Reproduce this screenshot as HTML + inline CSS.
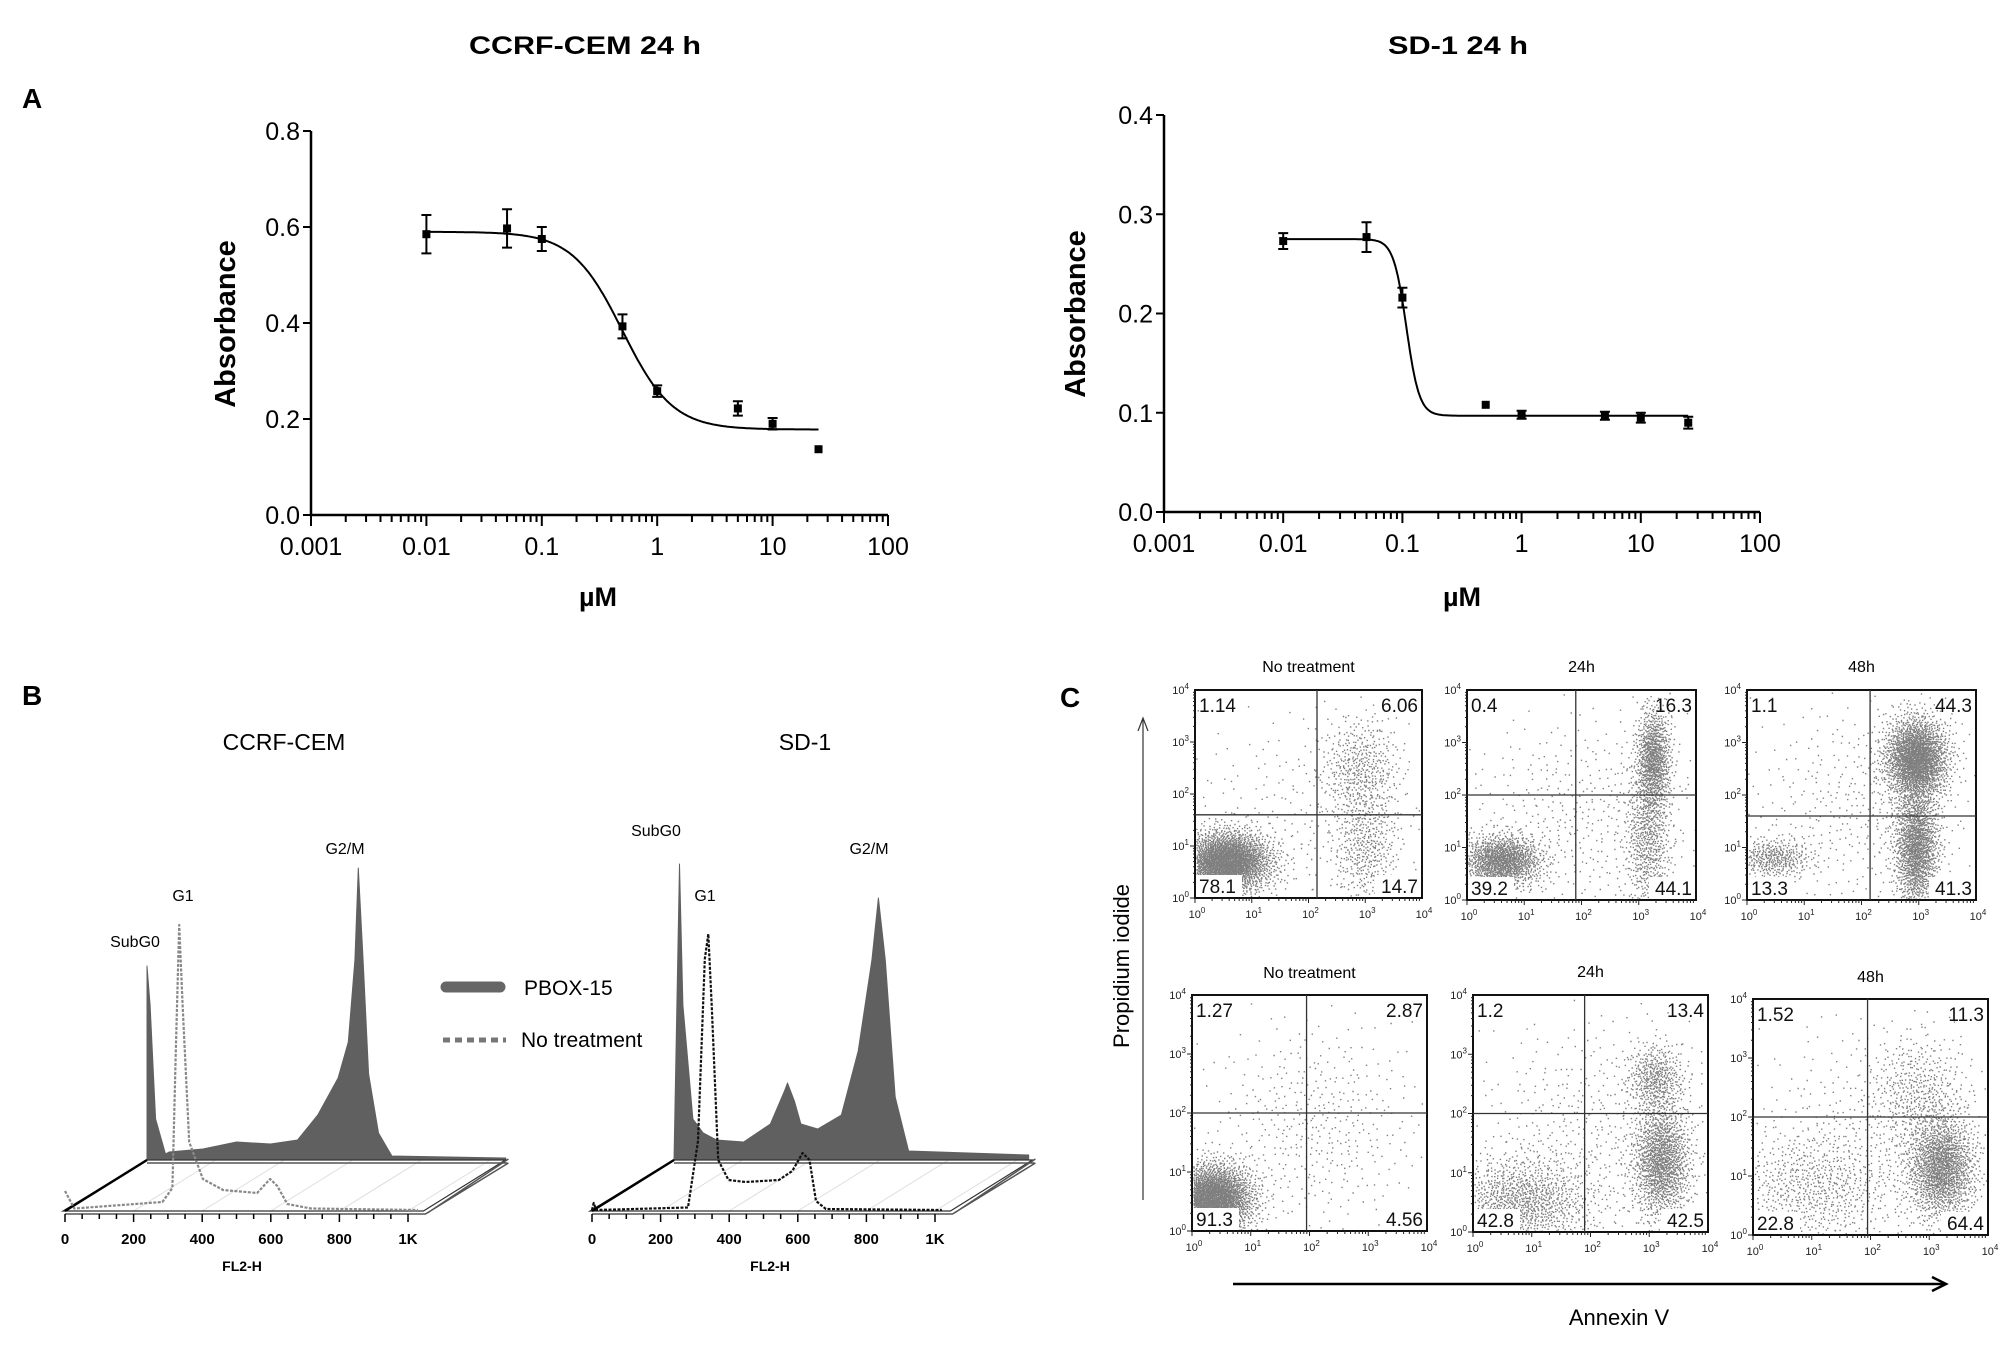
<!DOCTYPE html>
<html><head><meta charset="utf-8">
<style>
html,body{margin:0;padding:0;background:#fff;}
svg{display:block;}
text{font-family:"Liberation Sans",sans-serif;}
.nar{font-family:"Liberation Sans Narrow","Liberation Sans",sans-serif;}
</style></head>
<body>
<svg id="fig" width="2008" height="1356" viewBox="0 0 2008 1356" xmlns="http://www.w3.org/2000/svg">
<rect width="2008" height="1356" fill="#fff"/>
<text x="22" y="108" font-size="28" font-weight="bold" class="nar">A</text>
<text x="585" y="54" font-size="25" font-weight="bold" text-anchor="middle" textLength="232" lengthAdjust="spacingAndGlyphs" class="nar">CCRF-CEM 24 h</text>
<text x="1458" y="54" font-size="25" font-weight="bold" text-anchor="middle" textLength="140" lengthAdjust="spacingAndGlyphs" class="nar">SD-1 24 h</text>
<text x="0" y="0" font-size="29" font-weight="bold" text-anchor="middle" transform="translate(235,324) rotate(-90)">Absorbance</text>
<text x="0" y="0" font-size="29" font-weight="bold" text-anchor="middle" transform="translate(1085,314) rotate(-90)">Absorbance</text>
<text x="598" y="606" font-size="27" font-weight="bold" text-anchor="middle" class="nar">µM</text>
<text x="1462" y="606" font-size="27" font-weight="bold" text-anchor="middle" class="nar">µM</text>
<text x="22" y="705" font-size="28" font-weight="bold" class="nar">B</text>
<text x="284" y="750" font-size="23" text-anchor="middle" class="nar">CCRF-CEM</text>
<text x="805" y="750" font-size="23" text-anchor="middle" class="nar">SD-1</text>
<text x="135" y="947" font-size="16" text-anchor="middle" class="nar">SubG0</text>
<text x="183" y="901" font-size="16" text-anchor="middle" class="nar">G1</text>
<text x="345" y="854" font-size="16" text-anchor="middle" class="nar">G2/M</text>
<text x="656" y="836" font-size="16" text-anchor="middle" class="nar">SubG0</text>
<text x="705" y="901" font-size="16" text-anchor="middle" class="nar">G1</text>
<text x="869" y="854" font-size="16" text-anchor="middle" class="nar">G2/M</text>
<g>
<line x1="446" y1="987" x2="500" y2="987" stroke="#666" stroke-width="11" stroke-linecap="round"/>
<text x="524" y="995" font-size="21" class="nar">PBOX-15</text>
<line x1="443" y1="1040" x2="506" y2="1040" stroke="#777" stroke-width="5" stroke-dasharray="7,5"/>
<text x="521" y="1047" font-size="21" class="nar">No treatment</text>
</g>
<text x="242" y="1271" font-size="14" font-weight="bold" text-anchor="middle" class="nar">FL2-H</text>
<text x="770" y="1271" font-size="14" font-weight="bold" text-anchor="middle" class="nar">FL2-H</text>
<text x="1060" y="707" font-size="28" font-weight="bold" class="nar">C</text>
<text x="0" y="0" font-size="22" text-anchor="middle" transform="translate(1129,966) rotate(-90)">Propidium iodide</text>
<line x1="1143" y1="1200" x2="1143" y2="720" stroke="#333" stroke-width="1.2"/>
<polyline points="1138,731 1143,718 1148,731" fill="none" stroke="#333" stroke-width="1.2"/>
<line x1="1233" y1="1284" x2="1944" y2="1284" stroke="#000" stroke-width="2.5"/>
<polyline points="1932,1277 1946,1284 1932,1291" fill="none" stroke="#000" stroke-width="2.5"/>
<text x="1619" y="1325" font-size="22" text-anchor="middle">Annexin V</text>
<g id="layer"></g>
</svg>
<script>
// ===== Panel A data =====
const concA = [0.01, 0.05, 0.1, 0.5, 1, 5, 10, 25];
const absA1 = [0.585, 0.597, 0.575, 0.393, 0.258, 0.222, 0.190, 0.137];
const errA1 = [0.040, 0.040, 0.025, 0.025, 0.012, 0.015, 0.012, 0.0];
const fitA1 = [0.59, 0.178, 0.5, 2.0];
const absA2 = [0.273, 0.277, 0.216, 0.108, 0.098, 0.097, 0.095, 0.090];
const errA2 = [0.008, 0.015, 0.010, 0.0, 0.004, 0.004, 0.005, 0.006];
const fitA2 = [0.275, 0.097, 0.108, 8.0];
const xTickLabelsA = ['0.001', '0.01', '0.1', '1', '10', '100'];
const yTicksA1 = [0, 0.2, 0.4, 0.6, 0.8];
const yTicksA2 = [0, 0.1, 0.2, 0.3, 0.4];

// ===== Panel B data (channel, count) =====
const ccrfTreatCh = [0,0,9,25,54,64,163,261,360,439,498,557,587,606,616,630,646,675,714,1046];
const ccrfTreatCt = [0,194,155,41,6,8,11,18,16,20,45,82,118,200,292,200,86,27,4,2];
const ccrfCtrlCh = [0,27,284,313,323,333,343,362,402,461,560,598,619,648,717,1029];
const ccrfCtrlCt = [20,2.5,9,23,160,286,206,69,32,21,18,32,25,7,2.5,1];
const sd1TreatCh = [0,16,26,55,85,124,203,281,321,331,351,370,419,488,537,577,596,616,645,684,1034];
const sd1TreatCt = [0,296,155,41,27,20,18,36,68,77,59,36,31,45,109,200,262,200,63,9,5];
const sd1CtrlCh = [0,5,12,280,309,329,339,349,368,398,447,545,584,614,634,653,682,1020];
const sd1CtrlCt = [1,8,1,3.5,70,252,277,206,51,31,29,31,40,58,51,10,2,1];
const histTickLabels = ['0','200','400','600','800','1K'];

// ===== Panel C data =====
const flowTitles = ['No treatment','24h','48h','No treatment','24h','48h'];
const quadUL = ['1.14','0.4','1.1','1.27','1.2','1.52'];
const quadUR = ['6.06','16.3','44.3','2.87','13.4','11.3'];
const quadLL = ['78.1','39.2','13.3','91.3','42.8','22.8'];
const quadLR = ['14.7','44.1','41.3','4.56','42.5','64.4'];
const gateX = [2.15, 1.9, 2.15, 1.95, 1.9, 1.95];
const gateY = [1.6, 2.0, 1.6, 2.0, 2.0, 2.0];
const clusters0 = [[0.55,0.7,0.4,0.3,2600],[2.9,2.5,0.35,0.5,450],[3.0,1.0,0.3,0.6,450],[1.8,1.6,1.2,1.1,250]];
const clusters1 = [[0.6,0.75,0.35,0.25,1300],[3.25,2.7,0.15,0.5,900],[3.15,1.2,0.2,0.8,700],[2.0,1.6,1.1,1.0,450]];
const clusters2 = [[0.45,0.8,0.35,0.2,400],[2.95,2.7,0.28,0.4,2100],[2.95,1.0,0.2,0.6,1500],[2.0,1.8,1.0,1.0,400]];
const clusters3 = [[0.35,0.55,0.35,0.3,2600],[2.1,1.8,0.9,0.9,450]];
const clusters4 = [[0.8,0.5,0.6,0.4,1200],[3.2,1.2,0.25,0.5,1400],[3.1,2.6,0.25,0.3,450],[2.0,1.6,1.0,1.0,500]];
const clusters5 = [[1.0,0.8,0.7,0.5,700],[3.2,1.15,0.3,0.45,1600],[2.8,2.4,0.4,0.5,450],[2.0,1.7,1.0,1.0,400]];
const allClusters = [clusters0, clusters1, clusters2, clusters3, clusters4, clusters5];

const NS = 'http://www.w3.org/2000/svg';
const layer = document.getElementById('layer');
function mk(tag, attrs, parent) {
  const e = document.createElementNS(NS, tag);
  for (const k in attrs) e.setAttribute(k, attrs[k]);
  (parent || layer).appendChild(e);
  return e;
}

function drawDose(o) {
  const g = mk('g', {});
  
  
  const X = v => o.x0 + (Math.log10(v) + 3) * o.dec;
  const Y = v => o.y0 - v / o.ymax * o.h;
  const xEnd = o.x0 + 5 * o.dec;
  const ax = mk('path', {d: `M${o.x0} ${o.y0 - o.h} V${o.y0} H${xEnd}`, fill: 'none', stroke: '#000', 'stroke-width': 2.5}, g);
  
  
  let td = '';
  for (let d = 0; d < 5; d++) {
    for (let m = 1; m < 10; m++) {
      const xx = o.x0 + (d + Math.log10(m)) * o.dec;
      td += `M${xx} ${o.y0} v${m === 1 ? 11 : 7}`;
    }
  }
  td += `M${xEnd} ${o.y0} v11`;
  o.yt.forEach(v => { td += `M${o.x0} ${Y(v)} h-8`; });
  const tk = mk('path', {d: td, stroke: '#000', 'stroke-width': 2, fill: 'none'}, g);
  
  
  xTickLabelsA.forEach((s, i) => {
    const t = mk('text', {x: o.x0 + i * o.dec, y: o.y0 + 40, 'font-size': 25, 'text-anchor': 'middle', class: 'nar'}, g);
    
    
    t.textContent = s;
  });
  o.yt.forEach(v => {
    const t = mk('text', {x: o.x0 - 11, y: Y(v) + 9, 'font-size': 25, 'text-anchor': 'end', class: 'nar'}, g);
    
    
    t.textContent = v.toFixed(1);
  });
  const [top, bot, ic, hl] = o.fit;
  let cd = '';
  for (let i = 0; i <= 300; i++) {
    const lx = -2 + i / 300 * (Math.log10(25) + 2);
    const x = Math.pow(10, lx);
    const y = bot + (top - bot) / (1 + Math.pow(x / ic, hl));
    cd += (i ? 'L' : 'M') + X(x).toFixed(1) + ' ' + Y(y).toFixed(1);
  }
  const cv = mk('path', {d: cd, fill: 'none', stroke: '#000', 'stroke-width': 2}, g);
  
  
  concA.forEach((c, i) => {
    const x = X(c), y = Y(o.vals[i]), e = o.errs[i];
    if (e > 0) {
      const y1 = Y(o.vals[i] + e), y2 = Y(o.vals[i] - e);
      const eb = mk('path', {d: `M${x} ${y1} V${y2} M${x - 5} ${y1} h10 M${x - 5} ${y2} h10`, stroke: '#000', 'stroke-width': 2, fill: 'none'}, g);
      
      
    }
    const p = mk('rect', {x: x - 4, y: y - 4, width: 8, height: 8, fill: '#000'}, g);
    
    
  });
}
drawDose({name: 'dose-response-ccrf-cem', x0: 311, y0: 515, dec: 115.4, h: 384, ymax: 0.8, yt: yTicksA1, vals: absA1, errs: errA1, fit: fitA1});
drawDose({name: 'dose-response-sd1', x0: 1164, y0: 512, dec: 119.2, h: 397, ymax: 0.4, yt: yTicksA2, vals: absA2, errs: errA2, fit: fitA2});

function drawHist(o) {
  const g = mk('g', {});
  
  
  const s = 0.343;
  const bx = c => o.bx0 + c * s, fx = c => o.fx0 + c * s;
  const fy0 = o.by0 + 51;
  let grid = '';
  for (let c = 200; c <= 1000; c += 200) grid += `M${fx(c)} ${fy0} L${bx(c)} ${o.by0}`;
  const gr = mk('path', {d: grid, stroke: '#ddd', 'stroke-width': 1, fill: 'none'}, g);
  
  
  const bxe = bx(1045), fxe = fx(1045);
  let d = `M${bx(o.tch[0])} ${o.by0}`;
  o.tch.forEach((c, i) => { d += `L${bx(c).toFixed(1)} ${(o.by0 - o.tct[i]).toFixed(1)}`; });
  d += `L${bx(o.tch[o.tch.length - 1])} ${o.by0}Z`;
  const fl = mk('path', {d: d, fill: '#606060', stroke: '#606060', 'stroke-width': 1, 'stroke-linejoin': 'round'}, g);
  
  
  const plat = mk('path', {d: `M${o.bx0} ${o.by0} H${bxe} L${fxe} ${fy0} H${o.fx0 - 2} Z`, fill: 'none', stroke: '#333', 'stroke-width': 1.2}, g);
  
  
  const edges = mk('path', {d: `M${o.bx0} ${o.by0 + 3} H${bxe + 2} M${fx(0)} ${fy0 + 3} H${fxe + 2} L${bxe + 3} ${o.by0 + 3} M${bxe + 3} ${o.by0 - 1} L${fxe + 4} ${fy0 + 2}`, fill: 'none', stroke: '#555', 'stroke-width': 1.5}, g);
  
  
  const le = mk('path', {d: `M${o.bx0} ${o.by0} L${o.fx0} ${fy0}`, stroke: '#000', 'stroke-width': 2.5}, g);
  
  
  let cd = '';
  o.cch.forEach((c, i) => { cd += (i ? 'L' : 'M') + fx(c).toFixed(1) + ' ' + (fy0 - o.cct[i]).toFixed(1); });
  const ct = mk('path', {d: cd, fill: 'none', stroke: o.cc, 'stroke-width': 2.2, 'stroke-dasharray': '3,1.5', 'stroke-linejoin': 'round'}, g);
  
  
  let td = '';
  for (let c = 0; c <= 1000; c += 50) td += `M${fx(c)} ${fy0 + 3} v${c % 200 === 0 ? 8 : 5}`;
  const tk = mk('path', {d: td, stroke: '#000', 'stroke-width': 1.5}, g);
  
  
  histTickLabels.forEach((l, i) => {
    const t = mk('text', {x: fx(i * 200), y: fy0 + 33, 'font-size': 15, 'font-weight': 'bold', 'text-anchor': 'middle', class: 'nar'}, g);
    
    
    t.textContent = l;
  });
}
drawHist({name: 'cell-cycle-histogram-ccrf-cem', bx0: 147, by0: 1160, fx0: 65, tch: ccrfTreatCh, tct: ccrfTreatCt, cch: ccrfCtrlCh, cct: ccrfCtrlCt, cc: '#888'});
drawHist({name: 'cell-cycle-histogram-sd1', bx0: 674, by0: 1160, fx0: 592, tch: sd1TreatCh, tct: sd1TreatCt, cch: sd1CtrlCh, cct: sd1CtrlCt, cc: '#111'});

const boxes = [[1195,690,1422,898],[1467,690,1696,900],[1747,690,1976,900],[1192,995,1427,1231],[1473,995,1708,1232],[1753,999,1988,1235]];
const titleY = [672, 672, 672, 978, 977, 982];
function halton(i, b) { let f = 1, r = 0; while (i > 0) { f /= b; r += f * (i % b); i = Math.floor(i / b); } return r; }
function drawFlow(k) {
  const [x0, y0, x1, y1] = boxes[k];
  const g = mk('g', {});
  
  
  const X = v => x0 + v / 4 * (x1 - x0), Y = v => y1 - v / 4 * (y1 - y0);
  const tt = mk('text', {x: (x0 + x1) / 2, y: titleY[k], 'font-size': 16, 'text-anchor': 'middle', class: 'nar'}, g);
  
  
  tt.textContent = flowTitles[k];
  let dd = '', idx = 1 + k * 7;
  allClusters[k].forEach(cl => {
    const [cx, cy, sx, sy, n] = cl;
    for (let j = 0; j < n; j++, idx++) {
      const u1 = Math.max(halton(idx, 2), 1e-6), u2 = halton(idx, 3);
      const rr = Math.sqrt(-2 * Math.log(u1));
      let vx = cx + sx * rr * Math.cos(2 * Math.PI * u2), vy = cy + sy * rr * Math.sin(2 * Math.PI * u2);
      if (vx < 0.02 || vx > 3.98 || vy < 0.02 || vy > 3.98) continue;
      dd += `M${X(vx).toFixed(1)} ${Y(vy).toFixed(1)}h1.4v1.4h-1.4z`;
    }
  });
  const dots = mk('path', {d: dd, fill: '#2a2a2a', 'fill-opacity': 0.6}, g);
  
  
  const bx = mk('rect', {x: x0, y: y0, width: x1 - x0, height: y1 - y0, fill: 'none', stroke: '#111', 'stroke-width': 2}, g);
  
  
  const q = mk('path', {d: `M${X(gateX[k])} ${y0} V${y1} M${x0} ${Y(gateY[k])} H${x1}`, stroke: '#333', 'stroke-width': 1.3}, g);
  
  
  let td = '';
  for (let d = 0; d < 4; d++) for (let m = 1; m < 10; m++) {
    const t = d + Math.log10(m);
    td += `M${X(t)} ${y1} v${m === 1 ? 5 : 3}M${x0} ${Y(t)} h${m === 1 ? -5 : -2}`;
  }
  const tk = mk('path', {d: td, stroke: '#222', 'stroke-width': 1}, g);
  
  
  for (let d = 0; d <= 4; d++) {
    const tx = mk('text', {x: X(d) + 2, y: y1 + 20, 'font-size': 11, 'text-anchor': 'middle', fill: '#222'}, g);
    
    
    tx.innerHTML = '10<tspan dy="-5" font-size="8">' + d + '</tspan>';
    const ty = mk('text', {x: x0 - 6, y: Y(d) + 4, 'font-size': 11, 'text-anchor': 'end', fill: '#222'}, g);
    
    
    ty.innerHTML = '10<tspan dy="-5" font-size="8">' + d + '</tspan>';
  }
  const qs = [[quadUL[k], x0 + 4, y0 + 22, 'start', 'quadrant-ul-value'], [quadUR[k], x1 - 4, y0 + 22, 'end', 'quadrant-ur-value'], [quadLL[k], x0 + 4, y1 - 5, 'start', 'quadrant-ll-value'], [quadLR[k], x1 - 4, y1 - 5, 'end', 'quadrant-lr-value']];
  qs.forEach(a => {
    const w = a[0].length * 10 + 6;
    if (a[4] !== 'quadrant-ul-value' && a[4] !== 'quadrant-ur-value') {
      const bg = mk('rect', {x: a[3] === 'start' ? x0 + 1 : x1 - w - 1, y: y1 - 23, width: w, height: 22, fill: '#fff'}, g);
      
      
    }
    const t = mk('text', {x: a[1], y: a[2], 'font-size': 19, 'text-anchor': a[3], fill: '#111', class: 'nar'}, g);
    
    
    t.textContent = a[0];
  });
}
for (let k = 0; k < 6; k++) drawFlow(k);
</script>
</body></html>
